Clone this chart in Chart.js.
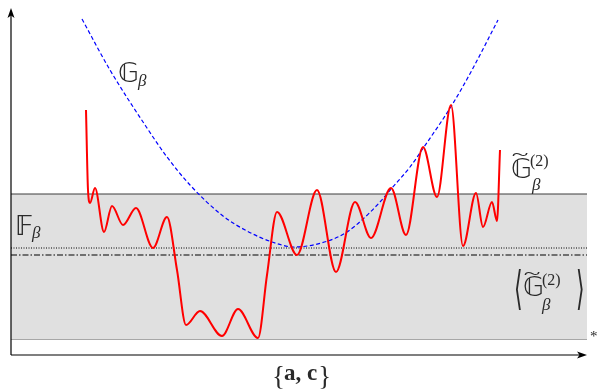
<!DOCTYPE html>
<html><head><meta charset="utf-8">
<script src="https://cdn.jsdelivr.net/npm/chart.js@4/dist/chart.umd.min.js"></script>
<style>html,body{margin:0;padding:0;background:#fff}#wrap{width:600px;height:391px;position:relative}</style>
</head><body><div id="wrap"><canvas id="c"></canvas></div>
<script>
// Red curve  (G-tilde beta (2))
const redX = [7.5, 7.7, 7.9, 8.4, 9.3, 10.1, 11.2, 12.5, 14.2, 15.6, 16.6, 17.5, 18.9, 21.1, 22.7, 24.7, 25.6, 26.6, 28.6, 30.6, 32.5, 34.4, 36.0, 38.0, 39.5, 41.2, 42.6, 44.0, 45.2, 46.5, 47.2, 48.1, 48.6, 48.9];
const redY = [24.5, 16.5, 15.2, 16.7, 12.3, 14.9, 13.0, 14.7, 10.7, 13.8, 8.5, 3.0, 4.4, 1.9, 4.6, 1.7, 8.0, 14.3, 10.0, 16.5, 8.3, 15.3, 11.7, 16.7, 12.0, 20.8, 15.8, 25.0, 10.9, 16.2, 12.8, 15.3, 13.4, 20.5];
// Blue dashed curve (G beta)
const blueX = [7.1, 9.9, 13.6, 15.6, 17.9, 21.2, 23.6, 26.1, 28.3, 31.7, 33.6, 35.2, 36.9, 38.1, 39.9, 41.3, 44.1, 46.1, 48.7];
const blueY = [33.6, 28.5, 22.7, 19.8, 17.0, 13.9, 12.4, 11.3, 10.8, 11.4, 12.3, 13.6, 15.3, 16.7, 18.8, 20.8, 25.0, 28.5, 33.5];
// Levels
const bandTop = 16.1, bandBottom = 1.6;
const dottedLevel = 10.7, dashDotLevel = 10.0;
const axisXEnd = 57.6, axisYEnd = 34.7;
const xLabel = ['{', 'a, c', '}'];

const pts = (xs, ys) => xs.map((x, i) => ({x, y: ys[i]}));
const hline = (v) => [{x: 0, y: v}, {x: axisXEnd, y: v}];

const overlay = {
  id: 'overlay',
  afterDatasetsDraw(chart) {
    const ctx = chart.ctx, sx = chart.scales.x, sy = chart.scales.y;
    const X = v => sx.getPixelForValue(v), Y = v => sy.getPixelForValue(v);
    ctx.save();
    // axes
    ctx.strokeStyle = '#000'; ctx.fillStyle = '#000'; ctx.lineWidth = 1.2;
    const ox = X(0), oy = Y(0), ex = X(axisXEnd), ey = Y(axisYEnd);
    ctx.beginPath(); ctx.moveTo(ox, oy); ctx.lineTo(ex - 4, oy); ctx.stroke();
    ctx.beginPath(); ctx.moveTo(ox, oy); ctx.lineTo(ox, ey + 4); ctx.stroke();
    ctx.beginPath(); ctx.moveTo(ex, oy); ctx.lineTo(ex - 10, oy - 3.5); ctx.lineTo(ex - 7.5, oy); ctx.lineTo(ex - 10, oy + 3.5); ctx.closePath(); ctx.fill();
    ctx.beginPath(); ctx.moveTo(ox, ey); ctx.lineTo(ox - 3.5, ey + 10); ctx.lineTo(ox, ey + 7.5); ctx.lineTo(ox + 3.5, ey + 10); ctx.closePath(); ctx.fill();

    ctx.fillStyle = '#2a2a2a';
    ctx.textBaseline = 'alphabetic'; ctx.textAlign = 'left';
    const big = '27px "DejaVu Sans"';
    const sub = 'italic 17px "Liberation Serif"';
    const sup = '16px "Liberation Serif"';
    const txt = (s, x, y, f) => { ctx.font = f; ctx.fillText(s, x, y); };
    const tilde = (cx, cy) => { ctx.save(); ctx.translate(cx, cy); ctx.scale(1.4, 0.8); ctx.font = '22px "Liberation Serif"'; ctx.textAlign = 'center'; ctx.textBaseline = 'middle'; ctx.fillText('~', 0, 0); ctx.restore(); };

    // G_beta
    txt('\u{1D53E}', 118, 82, big); txt('\u03B2', 138, 86, sub);
    // F_beta
    txt('\u{1D53D}', 15, 235, big); txt('\u03B2', 32, 238, sub);
    // G tilde beta (2)
    txt('\u{1D53E}', 511, 178, big); tilde(520, 155); txt('(2)', 530, 166, sup); txt('\u03B2', 532, 190, sub);
    // < G tilde beta (2) >_*
    const bracket = (s, x, y) => { ctx.save(); ctx.translate(x, y); ctx.scale(1, 2.1); ctx.font = '22px "DejaVu Serif"'; ctx.fillText(s, 0, 0); ctx.restore(); };
    bracket('\u27E8', 514, 304); bracket('\u27E9', 576, 304);
    txt('\u{1D53E}', 523, 296, big); tilde(532, 274); txt('(2)', 542, 285, sup); txt('\u03B2', 542, 310, sub);
    txt('*', 590, 341, '15px "Liberation Serif"');
    // x label
    ctx.font = '27px "Liberation Serif"'; ctx.fillText(xLabel[0], 272, 385);
    ctx.font = 'bold 23px "Liberation Serif"'; ctx.fillText(xLabel[1], 284, 380);
    const w = ctx.measureText(xLabel[1]).width;
    ctx.font = '27px "Liberation Serif"'; ctx.fillText(xLabel[2], 284 + w + 1, 385);
    ctx.restore();
  }
};

new Chart(document.getElementById('c'), {
  type: 'line',
  data: {
    datasets: [
      {data: pts(redX, redY), borderColor: '#ff0000', borderWidth: 2, pointRadius: 0, cubicInterpolationMode: 'monotone', fill: false, order: 0},
      {data: pts(blueX, blueY), borderColor: '#0000ff', borderWidth: 1.2, borderDash: [4, 2.5], pointRadius: 0, cubicInterpolationMode: 'monotone', fill: false, order: 1},
      {data: hline(dottedLevel), borderColor: '#000', borderWidth: 1, borderDash: [1, 1.5], pointRadius: 0, fill: false, order: 2},
      {data: hline(dashDotLevel), borderColor: '#000', borderWidth: 1.2, borderDash: [6, 2, 1.5, 2], pointRadius: 0, fill: false, order: 2},
      {data: hline(bandTop), borderColor: '#3c3c3c', borderWidth: 1, pointRadius: 0, fill: {value: bandBottom}, backgroundColor: '#e0e0e0', order: 3},
      {data: hline(bandBottom), borderColor: '#8a8a8a', borderWidth: 1.5, pointRadius: 0, fill: false, order: 3}
    ]
  },
  options: {
    responsive: true, maintainAspectRatio: false, animation: false,
    layout: {padding: 0},
    plugins: {legend: {display: false}, tooltip: {enabled: false}},
    scales: {
      x: {type: 'linear', min: -1.1, max: 58.9, display: false},
      y: {type: 'linear', min: -3.6, max: 35.5, display: false}
    }
  },
  plugins: [overlay]
});
</script>
</body></html>
